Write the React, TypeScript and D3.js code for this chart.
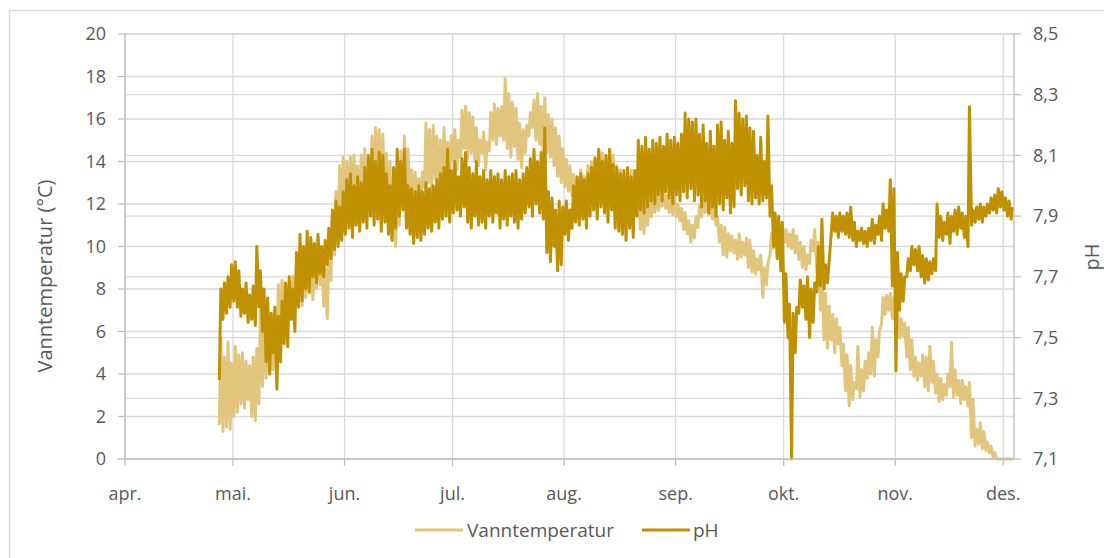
import React from "react";
import * as d3 from "d3";

// ---- data (daily low / high readings, first day = 27 April) ----
const firstDay = new Date(2019, 3, 27);
const axisStart = new Date(2019, 3, 1);
const axisEnd = new Date(2019, 11, 4);

const monthLabels = ["apr.", "mai.", "jun.", "jul.", "aug.", "sep.", "okt.", "nov.", "des."];
const tempTicks = [0, 2, 4, 6, 8, 10, 12, 14, 16, 18, 20];
const phTicks = [7.1, 7.3, 7.5, 7.7, 7.9, 8.1, 8.3, 8.5];

const tempLow = [
  1.6, 1.3, 1.5, 1.4, 2.0, 2.2, 2.6, 2.4, 2.8, 2.0,
  1.8, 2.6, 3.4, 3.8, 4.0, 4.2, 5.5, 6.0, 6.2, 6.5,
  6.8, 7.0, 7.4, 7.2, 7.6, 7.8, 7.5, 8.0, 8.2, 7.2,
  6.6, 8.4, 9.6, 10.6, 11.4, 11.0, 11.6, 12.0, 11.2, 11.5,
  12.0, 11.8, 12.2, 12.6, 12.4, 12.0, 11.6, 11.0, 10.4, 10.0,
  11.0, 12.0, 12.4, 11.8, 12.2, 11.6, 11.8, 12.8, 13.0, 12.6,
  13.2, 12.2, 13.0, 12.8, 13.4, 14.0, 13.6, 14.2, 14.6, 14.1,
  14.4, 14.0, 13.8, 14.4, 13.6, 14.5, 15.0, 14.8, 15.2, 15.0,
  14.6, 14.2, 14.7, 14.1, 13.7, 14.4, 15.2, 15.6, 15.0, 14.8,
  14.1, 14.4, 14.2, 13.8, 13.3, 13.0, 12.8, 12.6, 12.4, 12.5,
  12.2, 12.6, 12.5, 12.8, 12.4, 12.6, 12.8, 12.5, 12.2, 12.4,
  12.6, 12.4, 12.2, 11.9, 12.0, 11.8, 11.6, 10.8, 10.6, 11.0,
  11.4, 11.6, 11.7, 11.9, 11.8, 11.6, 11.5, 11.4, 11.2, 10.8,
  10.6, 10.2, 10.4, 10.9, 11.4, 11.6, 11.5, 11.3, 11.0, 10.2,
  9.6, 9.5, 9.8, 9.7, 9.4, 9.5, 9.6, 9.0, 8.8, 8.7,
  8.9, 7.6, 8.2, 9.6, 9.9, 10.0, 9.8, 10.2, 10.0, 9.9,
  9.7, 9.4, 9.0, 8.9, 9.2, 9.8, 8.8, 7.0, 5.6, 5.2,
  5.6, 5.0, 5.4, 4.4, 3.2, 2.5, 2.8, 3.3, 2.9, 3.2,
  3.8, 4.0, 3.9, 4.8, 6.4, 6.8, 7.0, 6.6, 6.0, 5.7,
  5.8, 4.8, 4.2, 3.9, 3.7, 3.9, 3.4, 3.2, 3.6, 3.1,
  2.7, 2.8, 3.0, 3.4, 2.9, 3.0, 2.6, 2.8, 2.5, 1.0,
  0.6, 0.7, 0.5, 0.4, 0.3, 0.1, 0, 0, 0, 0,
  0,
];

const tempHigh = [
  5.7, 4.8, 5.5, 4.5, 5.3, 4.9, 5.0, 4.6, 4.4, 4.8,
  5.2, 7.0, 6.4, 6.8, 6.2, 7.0, 8.2, 8.4, 8.0, 8.3,
  8.6, 9.0, 10.0, 9.6, 9.4, 9.8, 9.2, 9.6, 9.8, 9.0,
  9.4, 11.4, 12.6, 13.8, 14.2, 14.0, 14.2, 14.3, 13.8, 14.3,
  14.6, 14.0, 15.2, 15.6, 15.5, 15.3, 14.4, 14.0, 13.4, 13.8,
  14.5, 15.2, 14.6, 13.6, 13.5, 13.2, 13.5, 15.8, 15.5, 15.7,
  15.2, 15.0, 15.6, 14.9, 15.2, 15.5, 15.0, 16.4, 16.6, 16.3,
  16.1, 15.6, 15.0, 15.4, 14.9, 16.3, 16.7, 16.5, 16.6, 17.9,
  17.2, 16.8, 16.5, 15.8, 15.5, 15.7, 16.3, 16.9, 17.2, 16.6,
  17.0, 16.2, 16.0, 15.6, 15.2, 14.6, 14.1, 13.8, 13.4, 13.2,
  13.6, 13.3, 13.8, 14.0, 14.2, 14.5, 14.4, 14.1, 14.5, 14.3,
  13.8, 13.6, 13.4, 13.2, 13.6, 13.2, 12.4, 12.0, 11.9, 12.1,
  12.2, 12.5, 12.3, 12.6, 12.4, 12.2, 12.3, 12.0, 11.8, 11.6,
  11.2, 11.0, 11.4, 11.9, 12.2, 12.5, 12.4, 12.0, 11.4, 11.0,
  10.9, 10.6, 10.5, 10.3, 10.6, 10.2, 10.4, 10.3, 9.8, 9.4,
  9.6, 9.0, 9.2, 10.6, 10.6, 10.8, 10.7, 10.8, 10.6, 10.8,
  10.5, 10.2, 10.0, 9.6, 10.3, 10.8, 10.2, 8.8, 7.8, 7.2,
  6.8, 6.6, 6.2, 5.4, 4.9, 4.4, 3.6, 5.3, 4.2, 4.6,
  5.0, 6.2, 5.6, 6.0, 7.6, 7.7, 7.8, 7.6, 7.2, 6.6,
  6.4, 6.2, 5.6, 4.8, 4.5, 4.9, 4.8, 5.3, 4.6, 4.0,
  3.8, 3.5, 4.0, 5.5, 4.2, 3.7, 3.7, 3.4, 3.6, 2.8,
  1.4, 1.7, 1.3, 0.8, 0.6, 0.3, 0, 0, 0, 0,
  0,
];

const phLow = [
  7.36, 7.56, 7.58, 7.60, 7.62, 7.60, 7.57, 7.58, 7.55, 7.56,
  7.54, 7.60, 7.52, 7.42, 7.38, 7.45, 7.33, 7.42, 7.48, 7.47,
  7.56, 7.52, 7.60, 7.62, 7.66, 7.65, 7.70, 7.68, 7.71, 7.70,
  7.74, 7.76, 7.79, 7.80, 7.82, 7.84, 7.86, 7.83, 7.87, 7.85,
  7.88, 7.86, 7.90, 7.87, 7.89, 7.85, 7.88, 7.84, 7.82, 7.86,
  7.90, 7.92, 7.86, 7.84, 7.81, 7.83, 7.82, 7.84, 7.86, 7.85,
  7.88, 7.86, 7.89, 7.90, 7.88, 7.91, 7.92, 7.90, 7.93, 7.88,
  7.86, 7.90, 7.87, 7.88, 7.86, 7.90, 7.88, 7.91, 7.86, 7.89,
  7.87, 7.90, 7.88, 7.86, 7.89, 7.91, 7.93, 7.90, 7.94, 7.91,
  7.89, 7.78, 7.75, 7.80, 7.72, 7.74, 7.84, 7.82, 7.86, 7.88,
  7.87, 7.89, 7.86, 7.90, 7.92, 7.89, 7.93, 7.91, 7.88, 7.92,
  7.86, 7.85, 7.84, 7.82, 7.86, 7.83, 7.90, 7.92, 7.91, 7.93,
  7.95, 7.94, 7.97, 7.95, 7.98, 7.96, 7.94, 7.97, 7.95, 7.98,
  7.96, 7.99, 7.95, 7.97, 7.93, 7.95, 7.91, 7.93, 7.90, 7.94,
  7.92, 7.96, 7.91, 7.93, 7.99, 7.97, 8.00, 7.95, 7.94, 7.96,
  7.94, 7.95, 7.96, 7.90, 7.80, 7.76, 7.72, 7.55, 7.50, 7.10,
  7.45, 7.58, 7.60, 7.56, 7.50, 7.55, 7.65, 7.67, 7.66, 7.68,
  7.84, 7.85, 7.83, 7.85, 7.84, 7.83, 7.82, 7.80, 7.82, 7.81,
  7.80, 7.82, 7.81, 7.84, 7.82, 7.86, 7.85, 7.67, 7.39, 7.59,
  7.62, 7.70, 7.72, 7.74, 7.72, 7.70, 7.68, 7.69, 7.71, 7.72,
  7.83, 7.82, 7.84, 7.81, 7.85, 7.84, 7.86, 7.83, 7.80, 7.87,
  7.88, 7.89, 7.88, 7.90, 7.91, 7.92, 7.91, 7.93, 7.92, 7.90,
  7.89,
];

const phHigh = [
  7.66, 7.68, 7.70, 7.74, 7.75, 7.72, 7.66, 7.68, 7.64, 7.67,
  7.80, 7.72, 7.66, 7.63, 7.58, 7.60, 7.57, 7.62, 7.68, 7.70,
  7.66, 7.78, 7.84, 7.80, 7.85, 7.83, 7.81, 7.84, 7.80, 7.82,
  7.86, 7.92, 7.95, 7.93, 7.98, 8.02, 8.04, 8.00, 8.03, 8.01,
  8.06, 8.10, 8.12, 8.08, 8.11, 8.10, 8.04, 8.00, 8.06, 8.12,
  8.08, 8.12, 8.00, 7.99, 7.98, 8.00, 7.98, 8.01, 7.99, 8.00,
  8.02, 8.04, 8.06, 8.12, 8.05, 8.08, 8.03, 8.09, 8.11, 8.06,
  8.04, 8.08, 8.03, 8.05, 8.02, 8.05, 8.03, 8.04, 8.02, 8.05,
  8.03, 8.04, 8.05, 8.02, 8.04, 8.06, 8.09, 8.12, 8.08, 8.11,
  8.19, 7.98, 7.96, 7.92, 7.95, 7.93, 7.95, 7.92, 8.00, 8.03,
  8.04, 8.02, 8.04, 8.06, 8.09, 8.12, 8.08, 8.10, 8.12, 8.07,
  8.06, 8.04, 8.05, 8.06, 8.03, 8.05, 8.15, 8.13, 8.16, 8.12,
  8.15, 8.14, 8.16, 8.13, 8.17, 8.15, 8.16, 8.14, 8.17, 8.24,
  8.22, 8.21, 8.22, 8.17, 8.20, 8.14, 8.18, 8.13, 8.20, 8.21,
  8.15, 8.18, 8.14, 8.28, 8.24, 8.22, 8.23, 8.19, 8.18, 8.10,
  8.16, 8.08, 8.23, 8.00, 7.91, 7.90, 7.88, 7.71, 7.61, 7.58,
  7.60, 7.69, 7.67, 7.70, 7.66, 7.68, 7.80, 7.89, 7.74, 7.75,
  7.91, 7.90, 7.91, 7.90, 7.91, 7.93, 7.88, 7.85, 7.86, 7.85,
  7.86, 7.89, 7.87, 7.90, 7.94, 7.92, 8.02, 7.99, 7.78, 7.71,
  7.70, 7.76, 7.80, 7.79, 7.80, 7.77, 7.76, 7.75, 7.76, 7.94,
  7.90, 7.88, 7.91, 7.90, 7.92, 7.93, 7.91, 7.90, 8.26, 7.92,
  7.93, 7.94, 7.93, 7.94, 7.96, 7.97, 7.99, 7.98, 7.96, 7.95,
  7.93,
];

// ---- layout ----
const W = 1104;
const H = 558;
const L = 125;
const R = 1014;
const T = 34;
const B = 459;

const FONT = "'Open Sans', 'Noto Sans', sans-serif";
const TEXT = "#595959";
const GRID = "#d9d9d9";
const AXIS = "#bfbfbf";
const PALE = "#e1c57d";
const DARK = "#bf9000";

function dailyPoints(lo: number[], hi: number[]): [Date, number][] {
  const n = Math.min(lo.length, hi.length);
  const pts: [Date, number][] = [];
  for (let i = 0; i < n; i++) {
    const day = d3.timeDay.offset(firstDay, i);
    pts.push([d3.timeHour.offset(day, 5), lo[i]]);
    pts.push([d3.timeHour.offset(day, 15), hi[i]]);
  }
  return pts;
}

export default function App() {
  const x = d3.scaleTime().domain([axisStart, axisEnd]).range([L, R]);
  const yT = d3.scaleLinear().domain([0, 20]).range([B, T]);
  const yP = d3.scaleLinear().domain([7.1, 8.5]).range([B, T]);

  const months = d3.timeMonth.range(axisStart, d3.timeDay.offset(axisEnd, -1));

  const tempLine = d3
    .line<[Date, number]>()
    .x((d) => x(d[0]))
    .y((d) => yT(d[1]));
  const phLine = d3
    .line<[Date, number]>()
    .x((d) => x(d[0]))
    .y((d) => yP(d[1]));

  const tempPath = tempLine(dailyPoints(tempLow, tempHigh)) || "";
  const phPath = phLine(dailyPoints(phLow, phHigh)) || "";

  const fmtPh = (v: number) => d3.format(".1f")(v).replace(".", ",");

  return (
    <div style={{ position: "absolute", left: 0, top: 0 }}>
      <svg width={W} height={H} style={{ display: "block" }} fontFamily={FONT}>
        <rect x={0} y={0} width={W} height={H} fill="#ffffff" />
        <rect x={9.5} y={10.5} width={1300} height={700} fill="#ffffff" stroke={GRID} strokeWidth={1.3} />

        {/* gridlines */}
        {tempTicks.map((t) => (
          <line key={"gt" + t} x1={L} x2={R} y1={yT(t)} y2={yT(t)} stroke={GRID} strokeWidth={1.3} />
        ))}
        {phTicks.map((t) => (
          <line key={"gp" + t} x1={L} x2={R} y1={yP(t)} y2={yP(t)} stroke={GRID} strokeWidth={1.3} />
        ))}
        {months.map((m) => (
          <line key={"gm" + m.getTime()} x1={x(m)} x2={x(m)} y1={T} y2={B} stroke={GRID} strokeWidth={1.3} />
        ))}

        {/* series */}
        <path d={tempPath} fill="none" stroke={PALE} strokeWidth={3} strokeLinejoin="round" />
        <path d={phPath} fill="none" stroke={DARK} strokeWidth={3} strokeLinejoin="round" />

        {/* axes */}
        <line x1={L} x2={L} y1={T} y2={B} stroke={AXIS} strokeWidth={1.3} />
        <line x1={R} x2={R} y1={T} y2={B} stroke={AXIS} strokeWidth={1.3} />
        <line x1={L} x2={R} y1={B} y2={B} stroke={AXIS} strokeWidth={1.3} />
        {tempTicks.map((t) => (
          <line key={"tt" + t} x1={L - 7} x2={L} y1={yT(t)} y2={yT(t)} stroke={AXIS} strokeWidth={1.3} />
        ))}
        {phTicks.map((t) => (
          <line key={"tp" + t} x1={R} x2={R + 7} y1={yP(t)} y2={yP(t)} stroke={AXIS} strokeWidth={1.3} />
        ))}
        {months.map((m) => (
          <line key={"tm" + m.getTime()} x1={x(m)} x2={x(m)} y1={B} y2={B + 7} stroke={AXIS} strokeWidth={1.3} />
        ))}

        {/* tick labels */}
        {tempTicks.map((t) => (
          <text key={"lt" + t} x={106} y={yT(t)} dy="0.35em" textAnchor="end" fontSize={18} fill={TEXT}>
            {t}
          </text>
        ))}
        {phTicks.map((t) => (
          <text key={"lp" + t} x={1033} y={yP(t)} dy="0.35em" textAnchor="start" fontSize={18} fill={TEXT}>
            {fmtPh(t)}
          </text>
        ))}
        {months.map((m, i) => (
          <text key={"lm" + m.getTime()} x={x(m)} y={500} textAnchor="middle" fontSize={18} fill={TEXT}>
            {monthLabels[i]}
          </text>
        ))}

        {/* axis titles */}
        <text transform={`translate(52,276) rotate(-90)`} textAnchor="middle" fontSize={20} fill={TEXT}>
          Vanntemperatur (°C)
        </text>
        <text transform={`translate(1099,257) rotate(-90)`} textAnchor="middle" fontSize={20} fill={TEXT}>
          pH
        </text>

        {/* legend */}
        <line x1={415} x2={463} y1={530} y2={530} stroke={PALE} strokeWidth={3.2} />
        <text x={467} y={530} dy="0.35em" fontSize={19} fill={TEXT}>
          Vanntemperatur
        </text>
        <line x1={642} x2={690} y1={530} y2={530} stroke={DARK} strokeWidth={3.2} />
        <text x={693} y={530} dy="0.35em" fontSize={19} fill={TEXT}>
          pH
        </text>
      </svg>
    </div>
  );
}
